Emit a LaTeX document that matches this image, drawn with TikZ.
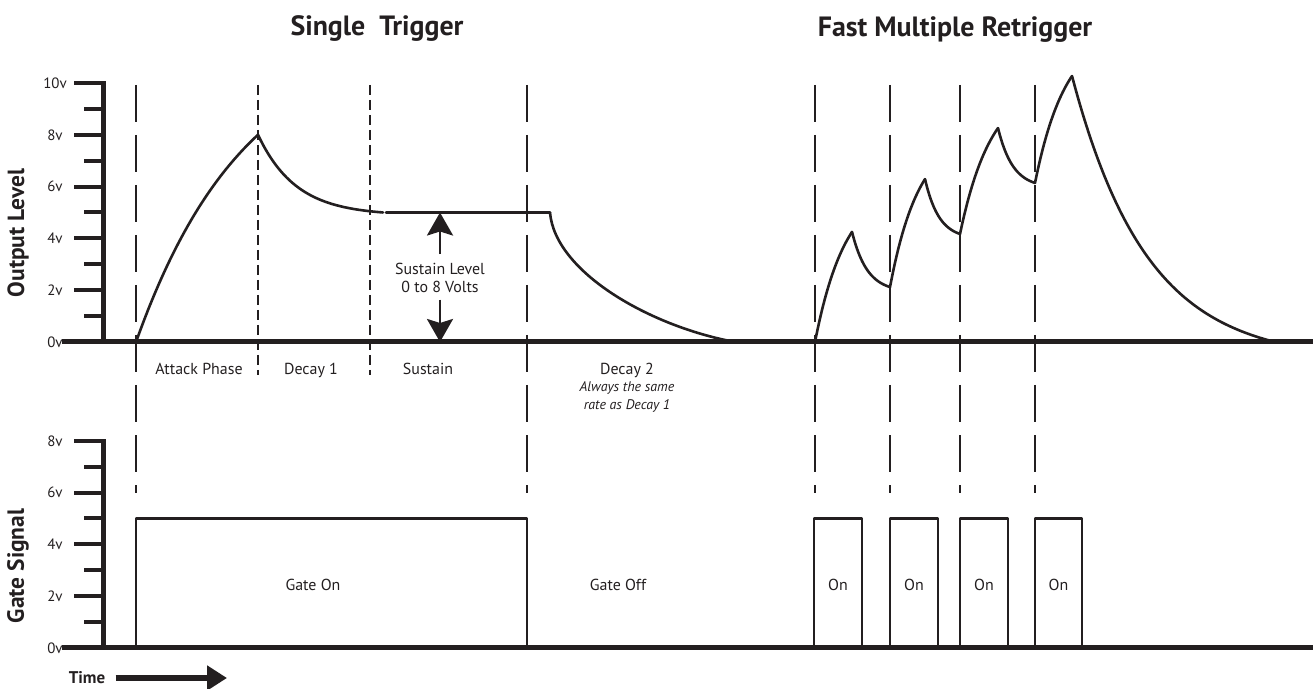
\documentclass[tikz,border=0pt]{standalone}
\usepackage{fontspec}
\setmainfont{PT Sans}
\usetikzlibrary{arrows.meta}
\definecolor{ink}{RGB}{35,31,32}
\tikzset{
	axis/.style={line width=5bp},
	tickmark/.style={line width=4bp},
	curve/.style={line width=2.6bp,line cap=round,line join=round},
	gate/.style={line width=2.6bp,line join=round},
	longdash/.style={line width=1.2bp,dash pattern=on 37bp off 13bp},
	shortdash/.style={line width=1.8bp,dash pattern=on 10bp off 5bp},
	vlabel/.style={font=\fontsize{15}{18}\selectfont},
	title/.style={font=\bfseries\fontsize{28}{32}\selectfont,anchor=base},
	axlbl/.style={font=\bfseries\fontsize{23.5}{28}\selectfont,rotate=90},
	note/.style={font=\itshape\fontsize{14}{17}\selectfont,anchor=base},
	bigarrow/.style={line width=2.8bp,-{Stealth[length=23bp,width=26bp,inset=4bp]}},
	timearrow/.style={line width=6bp,-{Triangle[length=20bp,width=24bp]}}
}
\begin{document}
\begin{tikzpicture}[x=1bp,y=1bp,smooth,samples=80,color=ink,font=\fontsize{16}{19}\selectfont]
	\useasboundingbox (0,0) rectangle (1313,688);
	% phase markers
	\foreach \x in {136,527,815,890,960,1035}\draw[longdash] (\x,603)--(\x,195);
	\foreach \x in {258,370}\draw[shortdash] (\x,603)--(\x,313);
	\node[title] (single) at (377,652) {Single~~Trigger};
	\node[title] (fast) at (955,651) {Fast Multiple Retrigger};
	% output level
	\begin{scope}[shift={(0,346)},y=25.9bp]
		\draw[curve,domain=0:122] plot({136+\x},{11.94*(1-exp(-\x/110))});
		\draw[curve,domain=0:125] plot({258+\x},{5+3*(exp(-\x/38)-0.037)/0.963});
		\draw[curve] (386,5)--(550,5);
		\draw[curve] (550,5) .. controls (555,2.7) and (650,0.6) .. (735,0);
		\foreach \xa/\va/\xb/\vb in {815/0/852/4.25,890/2.12/925/6.29,960/4.17/998/8.26,1035/6.14/1072/10.27}
			\draw[curve,domain=0:1] plot({\xa+(\xb-\xa)*\x},{\va+(\vb-\va)*(1-exp(-1.2*\x))/(1-exp(-1.2))});
		\foreach \xa/\va/\xb/\vb in {852/4.25/890/2.12,925/6.29/960/4.17,998/8.26/1035/6.14}
			\draw[curve,domain=0:1] plot({\xa+(\xb-\xa)*\x},{\vb+(\va-\vb)*(exp(-2.5*\x)-exp(-2.5))/(1-exp(-2.5))});
		\draw[curve,domain=0:203] plot({1072+\x},{10.27*(exp(-\x/75)-exp(-203/75))/(1-exp(-203/75))});
		\draw[axis] (103,0)--(103,10.08);
		\foreach \v in {2,4,...,10}\draw[tickmark] (74,\v)--(103,\v);
		\foreach \v in {1,3,...,9}\draw[tickmark] (84,\v)--(103,\v);
		\foreach \v in {0,2,...,10}\node[vlabel] (out\v) at (55,\v) {\v v};
		\draw[axis] (62,0)--(1313,0);
		\coordinate (suslvl) at (440,5);
		\coordinate (zerolvl) at (440,0);
	\end{scope}
	\node[axlbl] (outlbl) at (18,455) {Output Level};
	\node[anchor=base] (atk) at (199,313) {Attack Phase};
	\node[anchor=base] (dec1) at (311,313) {Decay 1};
	\node[anchor=base] (sus) at (428,313) {Sustain};
	\node[anchor=base] (dec2) at (627,313) {Decay 2};
	\node[note] (same1) at (627,296) {Always the same};
	\node[note] (same2) at (627,278) {rate as Decay 1};
	\node[anchor=base] (sustop) at (440,413) {Sustain Level};
	\node[anchor=base] (susbot) at (440,395) {0 to 8 Volts};
	\draw[bigarrow,shorten <=6bp] (sustop.north)--(suslvl);
	\draw[bigarrow,shorten <=3bp] (susbot.south)--(zerolvl);
	% gate signal
	\begin{scope}[shift={(0,40)},y=25.9bp]
		\draw[gate] (136,0)|-(527,5)--(527,0);
		\node (gon) at (313,2.43) {Gate On};
		\node (goff) at (618,2.43) {Gate Off};
		\foreach \xa/\xb [count=\i] in {814/862,890/938,960/1008,1035/1082}{
			\draw[gate] (\xa,0)|-(\xb,5)--(\xb,0);
			\node (on\i) at ({(\xa+\xb)/2},2.43) {On};}
		\draw[axis] (103,0)--(103,8.08);
		\foreach \v in {2,4,...,8}\draw[tickmark] (74,\v)--(103,\v);
		\foreach \v in {1,3,...,7}\draw[tickmark] (84,\v)--(103,\v);
		\foreach \v in {0,2,...,8}\node[vlabel] (gate\v) at (55,\v) {\v v};
		\draw[axis] (62,0)--(1313,0);
	\end{scope}
	\node[axlbl] (gatelbl) at (18,122) {Gate Signal};
	\node[font=\bfseries\fontsize{17}{20}\selectfont,anchor=base] (time) at (87,5) {Time};
	\coordinate (timeend) at (227,10);
	\draw[timearrow,shorten <=7bp] (time.east |- timeend)--(timeend);
\end{tikzpicture}
\end{document}
